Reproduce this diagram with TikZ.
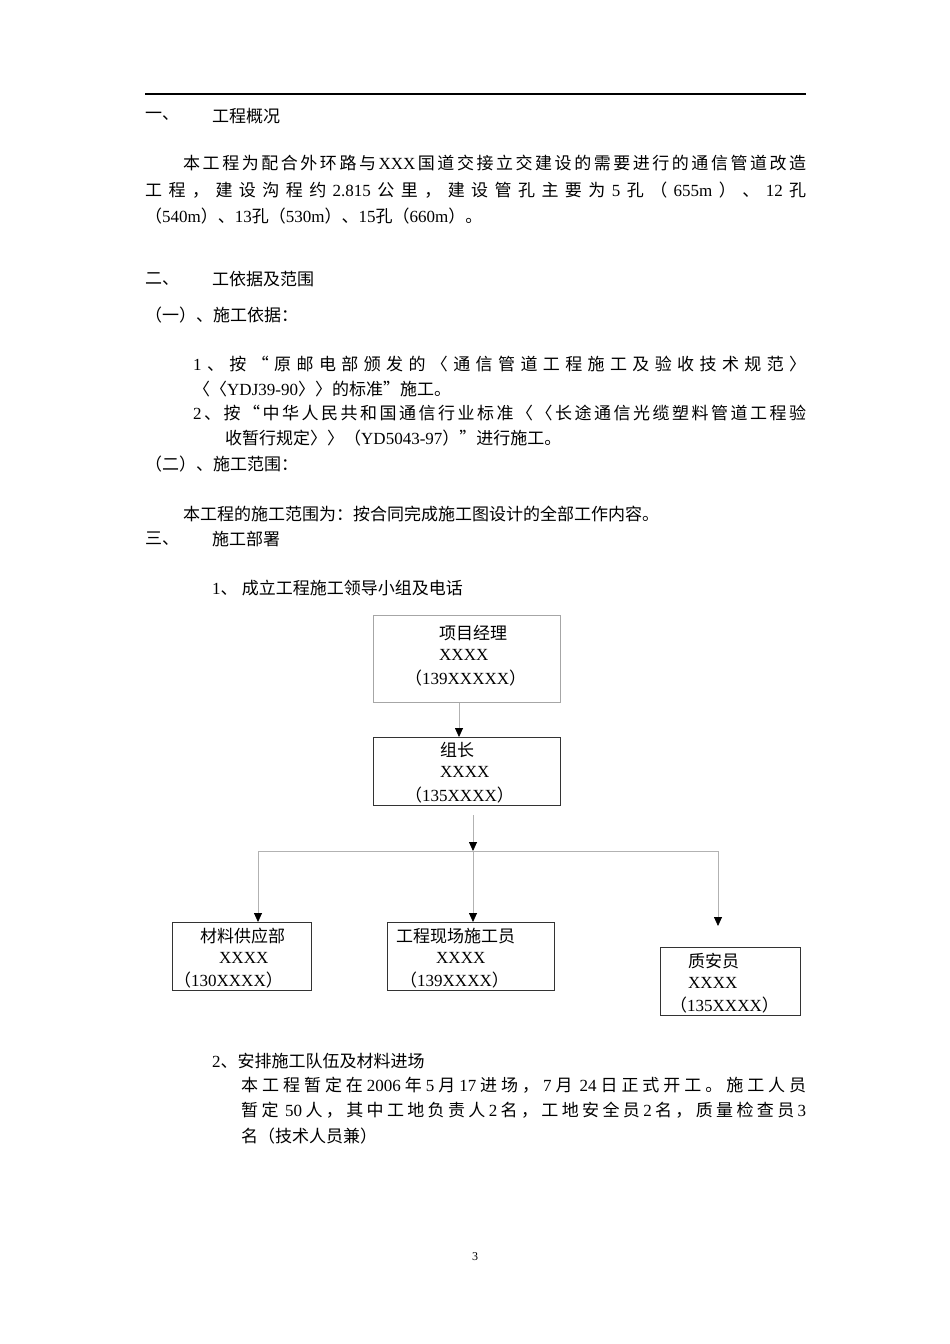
\documentclass[tikz,border=0pt]{standalone}
\usepackage{fontspec}
\setmainfont{Liberation Serif}
\newfontfamily\cjkf{Noto Sans CJK SC}
\XeTeXinterchartokenstate=1
\newXeTeXintercharclass\cjkcls
\count255="4E00 \loop\XeTeXcharclass\count255=\cjkcls\ifnum\count255<"9FFF \advance\count255 1 \repeat
\count255="3000 \loop\XeTeXcharclass\count255=\cjkcls\ifnum\count255<"303F \advance\count255 1 \repeat
\count255="FF00 \loop\XeTeXcharclass\count255=\cjkcls\ifnum\count255<"FFEF \advance\count255 1 \repeat
\XeTeXcharclass"201C=\cjkcls \XeTeXcharclass"201D=\cjkcls
\XeTeXinterchartoks 0 \cjkcls={\hskip0pt plus 3pt\cjkf}
\XeTeXinterchartoks 4095 \cjkcls={\cjkf}
\XeTeXinterchartoks \cjkcls 0={\rmfamily\hskip0pt plus 3pt}
\XeTeXinterchartoks \cjkcls 4095={\rmfamily}
\XeTeXinterchartoks \cjkcls \cjkcls={\hskip0pt plus 3pt}
\newcommand\jline[2]{\makebox[#1pt][s]{#2}}
\usetikzlibrary{arrows.meta}
\begin{document}
\begin{tikzpicture}[x=1pt,y=-1pt,
  every node/.style={font=\fontsize{17}{24}\selectfont,inner sep=0pt,anchor=west},
  conn/.style={draw=black!30,line width=0.8pt},
  arr/.style={conn,-{Triangle[length=9pt,width=8pt,color=black]}}]
\useasboundingbox (0,0) rectangle (950,1344);
\draw[line width=1.5pt] (145,94) -- (806,94);
\node (h1a) at (145,116) {一、};
\node (h1b) at (212,116) {工程概况};
\node (p1) at (183,163) {\jline{623}{本工程为配合外环路与XXX国道交接立交建设的需要进行的通信管道改造}};
\node (p2) at (145,190) {\jline{661}{工程，建设沟程约2.815公里，建设管孔主要为5孔（655m）、12孔}};
\node (p3) at (145,216) {（540m）、13孔（530m）、15孔（660m）。};
\node (h2a) at (145,279) {二、};
\node (h2b) at (212,279) {工依据及范围};
\node (s1) at (145,315) {（一）、施工依据：};
\node (q1) at (193,364) {\jline{613}{1、按“原邮电部颁发的〈通信管道工程施工及验收技术规范〉}};
\node (q2) at (193,389) {〈〈YDJ39-90〉〉的标准”施工。};
\node (q3) at (193,413) {\jline{613}{2、按“中华人民共和国通信行业标准〈〈长途通信光缆塑料管道工程验}};
\node (q4) at (225,438) {收暂行规定〉〉（YD5043-97）”进行施工。};
\node (s2) at (145,464) {（二）、施工范围：};
\node (r1) at (183,514) {本工程的施工范围为：按合同完成施工图设计的全部工作内容。};
\node (h3a) at (145,539) {三、};
\node (h3b) at (212,539) {施工部署};
\node (t1) at (212,588) {1、 成立工程施工领导小组及电话};

\node[draw=black!35,line width=0.8pt,anchor=north west,minimum width=187pt,minimum height=87pt] (pm) at (373,615) {};
\node (pm1) at (439,633) {项目经理};
\node (pm2) at (439,655) {XXXX};
\node (pm3) at (405,678) {（139XXXXX）};
\node[draw=black!80,line width=1pt,anchor=north west,minimum width=187pt,minimum height=68pt] (zz) at (373,737) {};
\node (zz1) at (440,750) {组长};
\node (zz2) at (440,772) {XXXX};
\node (zz3) at (405,795) {（135XXXX）};
\node[draw=black!80,line width=1pt,anchor=north west,minimum width=139pt,minimum height=68pt] (b1) at (172,922) {};
\node (b11) at (200,936) {材料供应部};
\node (b12) at (219,958) {XXXX};
\node (b13) at (174,980) {（130XXXX）};
\node[draw=black!80,line width=1pt,anchor=north west,minimum width=167pt,minimum height=68pt] (b2) at (387,922) {};
\node (b21) at (396,936) {工程现场施工员};
\node (b22) at (436,958) {XXXX};
\node (b23) at (400,980) {（139XXXX）};
\node[draw=black!80,line width=1pt,anchor=north west,minimum width=140pt,minimum height=68pt] (b3) at (660,947) {};
\node (b31) at (688,961) {质安员};
\node (b32) at (688,983) {XXXX};
\node (b33) at (670,1005) {（135XXXX）};

\coordinate (c0) at (473,815);
\coordinate (c1) at (473,851);
\coordinate (cl) at (258,851);
\coordinate (cr) at (718,851);
\coordinate (e3) at (718,926);
\coordinate (e3b) at (718,912);
\draw[arr] (pm.south -| 459,0) -- (zz.north -| 459,0);
\draw[arr] (c0) -- (c1);
\draw[conn] (cl) -- (cr);
\draw[arr] (cl) -- (b1.north -| cl);
\draw[arr] (c1) -- (b2.north -| c1);
\draw[conn] (cr) -- (e3b);
\draw[arr] (e3b) ++(0,-1) -- (e3);

\node (t2) at (212,1061) {2、安排施工队伍及材料进场};
\node (u1) at (241,1085) {\jline{565}{本工程暂定在2006年5月17进场，7月 24日正式开工。施工人员}};
\node (u2) at (241,1110) {\jline{565}{暂定 50人，其中工地负责人2名，工地安全员2名，质量检查员3}};
\node (u3) at (241,1136) {名（技术人员兼）};
\node[anchor=center,font=\fontsize{12}{14}\selectfont] (pg) at (475,1257) {3};
\end{tikzpicture}
\end{document}
